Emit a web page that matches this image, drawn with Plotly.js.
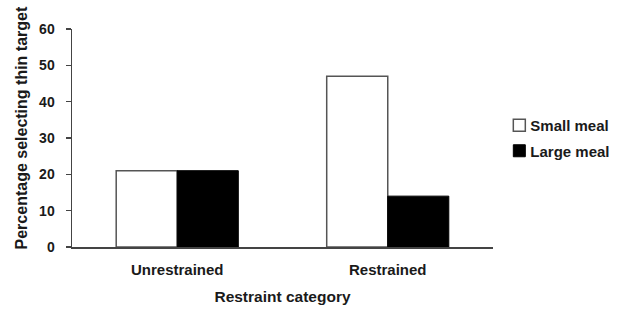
<!DOCTYPE html>
<html>
<head>
<meta charset="utf-8">
<script src="https://cdn.plot.ly/plotly-3.0.1.min.js"></script>
<style>
html,body{margin:0;padding:0;background:#fff;}
#chart{width:624px;height:313px;}
.legendtext{transform:translateX(-9px);}
</style>
</head>
<body>
<div id="chart"></div>
<script>
const categories = ["Unrestrained", "Restrained"];
const smallMeal = [21, 47];
const largeMeal = [21, 14];
const seriesNames = ["Small meal", "Large meal"];
const yTicks = [0, 10, 20, 30, 40, 50, 60];
const xTitle = "Restraint category";
const yTitle = "Percentage selecting thin target";

const fam = "Liberation Sans, Arial, sans-serif";
const txt = "#1a1a1a";

const data = [
  {type: "bar", x: categories, y: smallMeal, name: seriesNames[0], legendgroup: "a",
   marker: {color: "#ffffff", line: {color: "#555", width: 1.5}}},
  {type: "bar", x: categories, y: largeMeal, name: seriesNames[1], legendgroup: "b",
   marker: {color: "#000000", line: {color: "#000", width: 1}}}
];

const layout = {
  width: 624, height: 313,
  margin: {l: 72, r: 131, t: 29, b: 66, autoexpand: false},
  paper_bgcolor: "#fff", plot_bgcolor: "#fff",
  font: {family: fam, size: 14, color: txt},
  barmode: "group", bargap: 0.42, bargroupgap: 0,
  showlegend: true,
  legend: {x: 1.015, y: 0.5, xanchor: "left", yanchor: "middle",
           font: {family: fam, size: 15, color: txt, weight: "bold"},
           itemwidth: 30, traceorder: "grouped", tracegroupgap: 3, bgcolor: "rgba(0,0,0,0)"},
  xaxis: {
    showline: true, linecolor: "#444", linewidth: 1.5,
    ticks: "", showgrid: false, zeroline: false, ticklabelstandoff: 8,
    tickfont: {family: fam, size: 15, color: txt, weight: "bold"},
    title: {text: xTitle, standoff: 14,
            font: {family: fam, size: 15.5, color: txt, weight: "bold"}}
  },
  yaxis: {
    range: [0, 60], tickvals: yTicks, showline: true, linecolor: "#444", linewidth: 1.5,
    ticks: "outside", ticklen: 5, tickcolor: "#444", tickwidth: 1.5,
    showgrid: false, zeroline: false, ticklabelstandoff: 8,
    tickfont: {family: fam, size: 14, color: txt, weight: "bold"}
  },
  annotations: [{
    text: yTitle, xref: "paper", yref: "paper", x: -0.121, y: 0.544,
    xanchor: "center", yanchor: "middle", textangle: -90, showarrow: false,
    font: {family: fam, size: 16, color: txt, weight: "bold"}
  }]
};

Plotly.newPlot("chart", data, layout, {displayModeBar: false, staticPlot: true});
</script>
</body>
</html>
